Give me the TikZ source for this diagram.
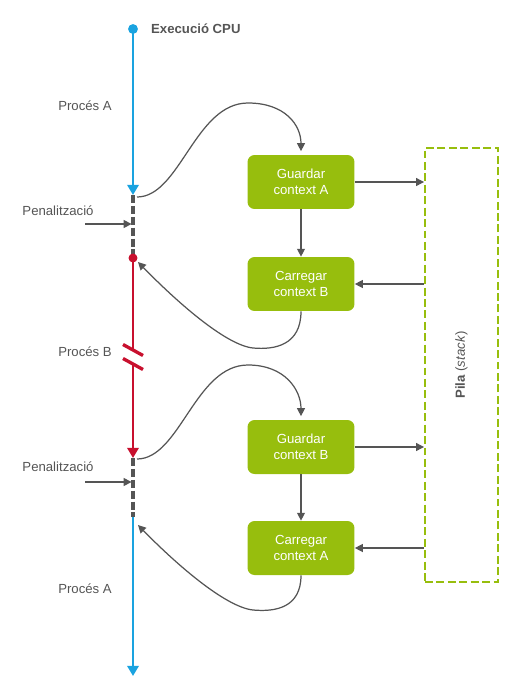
\documentclass[tikz,border=0pt]{standalone}
\usepackage{fontspec}
\setmainfont{Liberation Sans}
\usetikzlibrary{arrows.meta}
\definecolor{cpublue}{HTML}{1AA3E0}
\definecolor{cpured}{HTML}{C8102E}
\definecolor{txtgray}{HTML}{555555}
\definecolor{boxgreen}{HTML}{97BE0D}
\begin{document}
\begin{tikzpicture}[x=.02cm,y=-.02cm,
		font=\fontsize{7.5}{9}\selectfont,text=txtgray,
		box/.style={fill=boxgreen,rounded corners=.14cm,minimum width=2.14cm,minimum height=1.08cm,align=center,text=white,inner sep=0pt},
		pila/.style={draw=boxgreen,line width=1.1pt,dash pattern=on 4.5pt off 2pt,minimum width=1.46cm,minimum height=8.68cm,inner sep=0pt},
		link/.style={draw=txtgray,line width=.7pt,-{Triangle[length=4.5pt,width=4.5pt]}},
		cpu/.style={line width=1.7pt,-{Triangle[length=5.8pt,width=6.4pt]}},
		wait/.style={draw=txtgray,line width=1.8pt,dash pattern=on 4.6pt off 1.6pt}]
				\useasboundingbox (0,0) rectangle (520,700);
				% eix de temps
				\coordinate (start) at (133,29);
				\coordinate (p1) at (133,195);
				\coordinate (d1) at (133,258);
				\coordinate (b1) at (133,350);
				\coordinate (b2) at (133,364);
				\coordinate (p2) at (133,458);
				\coordinate (d2) at (133,517);
				\coordinate (end) at (133,676);
				\draw[cpu,cpublue] (start) -- (p1);
				\draw[wait] (p1) -- (d1);
				\draw[line width=1.7pt,cpured] (d1) -- (b1);
				\draw[line width=1.9pt,cpured] (123,344.5) -- (143,355.5) (123,358.5) -- (143,369.5);
				\draw[cpu,cpured] (b2) -- (p2);
				\draw[wait] (p2) -- (d2);
				\draw[cpu,cpublue] (d2) -- (end);
				\fill[cpublue] (start) circle (2.8pt);
				\fill[cpured] (d1) circle (2.55pt);
				\node (titol) at (145,29)[anchor=west]{\textbf{Execució CPU}};
				\node (pa1) at (85,106){Procés A};
				\node (pen1) at (58,211){Penalització};
				\node (pb) at (85,352){Procés B};
				\node (pen2) at (58,467){Penalització};
				\node (pa2) at (85,589){Procés A};
				\coordinate (q1) at (85,224);
				\coordinate (q2) at (85,482);
				\draw[link,shorten >=.8pt] (q1) -- (q1 -| start);
				\draw[link,shorten >=.8pt] (q2) -- (q2 -| start);
				% canvi de context
				\node (g1) at (301,182)[box]{Guardar\\context A};
				\node (c1) at (301,284)[box]{Carregar\\context B};
				\node (g2) at (301,447)[box]{Guardar\\context B};
				\node (c2) at (301,548)[box]{Carregar\\context A};
				\node (pila) at (461.5,365)[pila]{};
				\node (pilatxt) at (pila.center)[rotate=90]{\textbf{Pila} (\textit{stack})};
				\draw[link] (g1) -- (c1);
				\draw[link] (g2) -- (c2);
				\draw[link] (g1.east) -- (g1.east -| pila.west);
				\draw[link] (c1.east -| pila.west) -- (c1.east);
				\draw[link] (g2.east) -- (g2.east -| pila.west);
				\draw[link] (c2.east -| pila.west) -- (c2.east);
				\coordinate (o1) at (137,197);
				\coordinate (r1) at (138,262);
				\coordinate (o2) at (137,459);
				\coordinate (r2) at (138,525);
				\draw[link,shorten >=2pt] (o1) .. controls (180,197) and (195,103) .. (248,103) .. controls (285,103) and (301,125) .. (g1.north);
				\draw[link] (c1.south) .. controls (301,345) and (275,350) .. (253,348) .. controls (225,345) and (175,300) .. (r1);
				\draw[link,shorten >=2pt] (o2) .. controls (180,459) and (195,365) .. (248,365) .. controls (285,365) and (301,390) .. (g2.north);
				\draw[link] (c2.south) .. controls (301,608) and (275,612) .. (253,610) .. controls (225,607) and (175,563) .. (r2);
\end{tikzpicture}
\end{document}
